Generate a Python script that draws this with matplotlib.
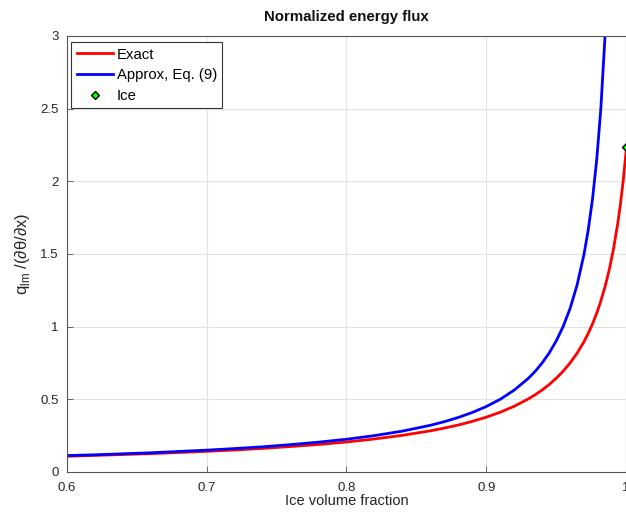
import matplotlib
matplotlib.use("Agg")
import matplotlib.pyplot as plt
from matplotlib.ticker import FixedLocator

plt.rcParams['font.family'] = ['Liberation Sans', 'DejaVu Sans']
plt.rcParams['mathtext.fontset'] = 'custom'
plt.rcParams['mathtext.rm'] = 'Liberation Sans'

# Exact curve
x_exact = [0.60, 0.62, 0.64, 0.66, 0.68, 0.70, 0.72, 0.74, 0.76, 0.78, 0.80,
           0.82, 0.84, 0.86, 0.87, 0.88, 0.89, 0.90, 0.91, 0.92, 0.93, 0.935,
           0.94, 0.945, 0.95, 0.955, 0.96, 0.965, 0.97, 0.973, 0.976, 0.979,
           0.982, 0.985, 0.988, 0.991, 0.994, 0.996, 0.998, 1.0]
y_exact = [0.108, 0.114, 0.120, 0.126, 0.134, 0.142, 0.151, 0.162, 0.175, 0.189,
           0.206, 0.227, 0.252, 0.283, 0.302, 0.323, 0.348, 0.377, 0.411, 0.452,
           0.502, 0.531, 0.564, 0.601, 0.644, 0.693, 0.750, 0.817, 0.897, 0.954,
           1.018, 1.091, 1.176, 1.275, 1.391, 1.532, 1.704, 1.842, 2.004, 2.198]

# Approximate curve, Eq. (9)
x_approx = [0.60, 0.62, 0.64, 0.66, 0.68, 0.70, 0.72, 0.74, 0.76, 0.78, 0.80,
            0.82, 0.84, 0.86, 0.87, 0.88, 0.89, 0.90, 0.91, 0.92, 0.93, 0.935,
            0.94, 0.945, 0.95, 0.955, 0.96, 0.965, 0.97, 0.973, 0.976, 0.979,
            0.982, 0.985, 0.988]
y_approx = [0.113, 0.118, 0.125, 0.132, 0.141, 0.150, 0.161, 0.173, 0.188, 0.205,
            0.225, 0.250, 0.281, 0.321, 0.346, 0.375, 0.409, 0.450, 0.500, 0.563,
            0.643, 0.692, 0.750, 0.818, 0.900, 1.000, 1.125, 1.286, 1.500, 1.667,
            1.875, 2.143, 2.500, 3.000, 3.750]

# Ice point
x_ice = [1.0]
y_ice = [2.235]

x_ticks = [0.6, 0.7, 0.8, 0.9, 1.0]
x_ticklabels = ['0.6', '0.7', '0.8', '0.9', '1']
y_ticks = [0, 0.5, 1, 1.5, 2, 2.5, 3]
y_ticklabels = ['0', '0.5', '1', '1.5', '2', '2.5', '3']

fig = plt.figure(figsize=(6.26, 5.13), dpi=100)
ax = fig.add_axes([0.107, 0.080, 0.893, 0.850])

ax.plot(x_exact, y_exact, color=(1, 0, 0), lw=2, label='Exact')
ax.plot(x_approx, y_approx, color=(0, 0, 1), lw=2, label='Approx, Eq. (9)')
ax.plot(x_ice, y_ice, linestyle='none', marker='D', markersize=4,
        markerfacecolor=(0, 1, 0), markeredgecolor='black', markeredgewidth=1,
        label='Ice', clip_on=False, zorder=5)

ax.set_xlim(0.6, 1.0)
ax.set_ylim(0, 3)
ax.xaxis.set_major_locator(FixedLocator(x_ticks))
ax.set_xticklabels(x_ticklabels)
ax.yaxis.set_major_locator(FixedLocator(y_ticks))
ax.set_yticklabels(y_ticklabels)

ax.grid(True, color='#e3e3e3', linewidth=0.8)
ax.set_axisbelow(True)
for s in ax.spines.values():
    s.set_color('#555555')
    s.set_linewidth(0.8)
ax.tick_params(direction='in', length=4, width=0.6, colors='#555555',
               labelcolor='#262626', labelsize=9.5, top=False, right=False)
ax.tick_params(axis='x', pad=7.5)
ax.tick_params(axis='y', pad=6)

ax.set_title('Normalized energy flux', fontsize=10.8, fontweight='bold',
             color='#111111', pad=11)
ax.set_xlabel('Ice volume fraction', fontsize=10.5, color='#262626', labelpad=0)
ax.set_ylabel(r'q$_{\rm lm}$ /(∂θ/∂x)', fontsize=12, color='#262626', labelpad=6)

leg = ax.legend(loc='upper left', bbox_to_anchor=(0.008, 0.985), fontsize=10.75,
                frameon=True, fancybox=False, framealpha=1, edgecolor='#333333',
                handlelength=2.4, handletextpad=0.3, labelspacing=0.45,
                borderpad=0.35, borderaxespad=0.0)
leg.get_frame().set_linewidth(0.8)

fig.savefig('out.png', dpi=100)
